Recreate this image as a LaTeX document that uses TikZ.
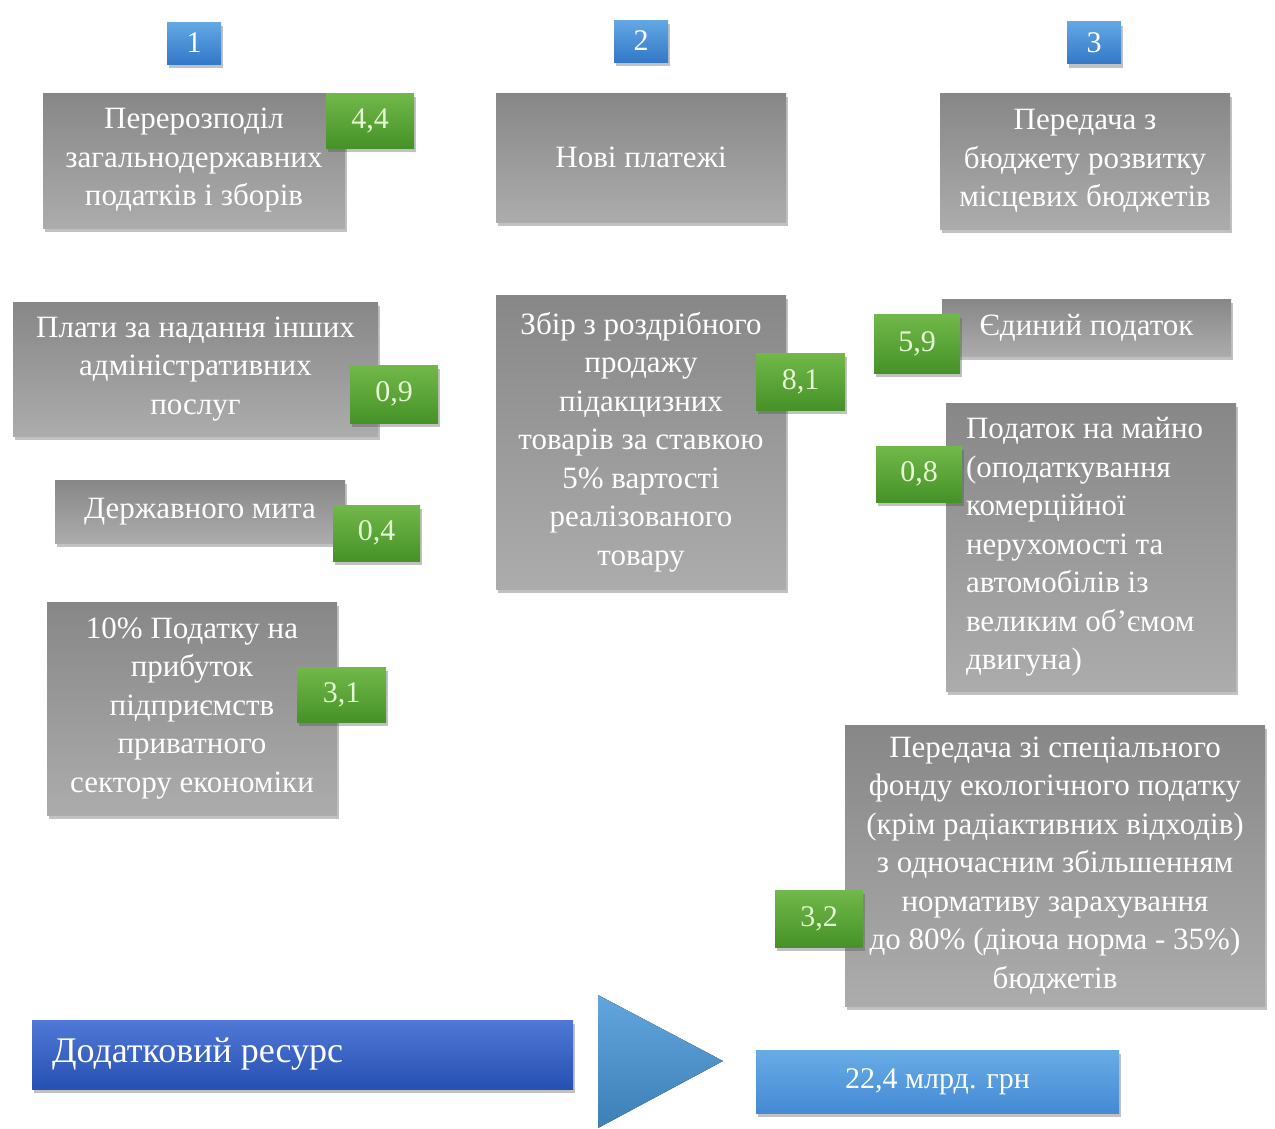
\documentclass[tikz,border=0pt]{standalone}
\usepackage{fontspec}
\setmainfont{Liberation Serif}
\usetikzlibrary{shadows}
\definecolor{gtop}{RGB}{135,135,135}
\definecolor{gbot}{RGB}{172,172,172}
\definecolor{grtop}{RGB}{114,184,74}
\definecolor{grbot}{RGB}{70,146,40}
\definecolor{btop}{RGB}{100,168,228}
\definecolor{bbot}{RGB}{50,120,200}
\definecolor{dbtop}{RGB}{80,120,214}
\definecolor{dbbot}{RGB}{38,80,178}
\definecolor{lbtop}{RGB}{104,172,230}
\definecolor{lbbot}{RGB}{68,138,212}
\definecolor{tritop}{RGB}{70,150,215}
\definecolor{numtxt}{RGB}{228,250,212}
\tikzset{
  shad/.style={drop shadow={opacity=0.35, shadow xshift=2pt, shadow yshift=-4pt, fill=black!70}},
  graybox/.style={shad, top color=gtop, bottom color=gbot, draw=none, text=white,
    font=\fontsize{31}{38.5}\selectfont, align=center, inner sep=0pt},
  greenbox/.style={shad, top color=grtop, bottom color=grbot, draw=none, text=numtxt,
    font=\fontsize{30}{34}\selectfont, inner sep=0pt},
  numbox/.style={shad, top color=btop, bottom color=bbot, draw=none, text=white,
    font=\fontsize{30}{34}\selectfont, inner sep=0pt, minimum width=54pt, minimum height=42pt},
  wh/.style={minimum width=#1pt},
  ht/.style={minimum height=#1pt}
}
\begin{document}
\begin{tikzpicture}[x=1pt,y=-1pt]
\useasboundingbox (0,0) rectangle (1275,1128);
% column numbers
\node[numbox] (n1) at (194,43) {1};
\node[numbox] (n2) at (641,41) {2};
\node[numbox] (n3) at (1094,42.5) {3};
% gray boxes
\node[graybox, wh=302, ht=135] (g1) at (194,160.5) {Перерозподіл\\загальнодержавних\\податків і зборів};
\node[graybox, wh=290, ht=129] (g2) at (641,157.5) {Нові платежі};
\node[graybox, wh=290, ht=136] (g3) at (1085,161) {Передача з\\бюджету розвитку\\місцевих бюджетів};
\node[graybox, wh=365, ht=134] (g4) at (195.5,369) {Плати за надання інших\\адміністративних\\послуг};
\node[graybox, wh=290, ht=63] (g5) at (200,511.5) {\raisebox{4pt}{Державного мита}};
\node[graybox, wh=290, ht=213] (g6) at (192,708.5) {10\% Податку на\\прибуток\\підприємств\\приватного\\сектору економіки};
\node[graybox, wh=290, ht=294] (g7) at (641,442) {Збір з роздрібного\\продажу\\підакцизних\\товарів за ставкою\\5\% вартості\\реалізованого\\товару};
\node[graybox, wh=289, ht=57] (g8) at (1086.5,327.5) {Єдиний податок};
\node[graybox, wh=290, ht=288, align=flush left, text width=250pt, inner xsep=20pt] (g9) at (1091,547) {Податок на майно\\(оподаткування\\комерційної\\нерухомості та\\автомобілів із\\великим обʼємом\\двигуна)};
\node[graybox, wh=420, ht=281] (g10) at (1055,865.5) {Передача зі спеціального\\фонду екологічного податку\\(крім радіактивних відходів)\\з одночасним збільшенням\\нормативу зарахування\\до 80\% (діюча норма - 35\%)\\бюджетів};
% green value boxes
\node[greenbox, wh=88, ht=55] (v1) at (370,120.5) {4,4};
\node[greenbox, wh=88, ht=58] (v2) at (394,394) {0,9};
\node[greenbox, wh=87, ht=56] (v3) at (376.5,533) {0,4};
\node[greenbox, wh=89, ht=55] (v4) at (341.5,694.5) {3,1};
\node[greenbox, wh=89, ht=57] (v5) at (800.5,381.5) {8,1};
\node[greenbox, wh=86, ht=59] (v6) at (917,343.5) {5,9};
\node[greenbox, wh=86, ht=56] (v7) at (919,474) {0,8};
\node[greenbox, wh=88, ht=57] (v8) at (819,918.5) {3,2};
% bottom row
\node[shad, top color=dbtop, bottom color=dbbot, draw=none, text=white, inner sep=0pt,
  inner xsep=20pt, text width=501pt, align=flush left, minimum height=69pt,
  font=\fontsize{36}{40}\selectfont] (res) at (302.5,1054.5) {\raisebox{5pt}{Додатковий ресурс}};
\fill[top color=tritop!85!white, bottom color=tritop!85!black, shading angle=0] (598,995) -- (723,1061) -- (598,1128) -- cycle;
\node[shad, top color=lbtop, bottom color=lbbot, draw=none, text=white, inner sep=0pt,
  minimum width=363pt, minimum height=63pt, font=\fontsize{30}{34}\selectfont] (tot) at (937.5,1081.5) {22,4 млрд. грн};
\end{tikzpicture}
\end{document}
